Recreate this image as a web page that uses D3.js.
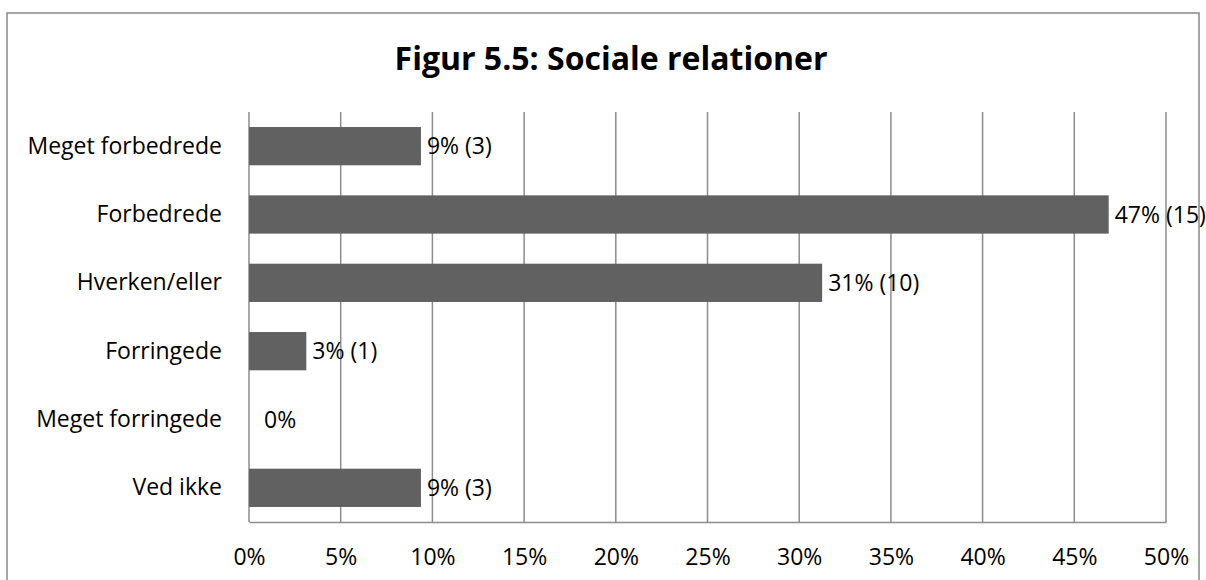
<!DOCTYPE html>
<html lang="da">
<head>
<meta charset="utf-8">
<title>Figur 5.5: Sociale relationer</title>
<style>
body { margin: 0; background: #fff; }
svg text { font-family: "Open Sans", sans-serif; fill: #000; }
.grid line { stroke: #8c8c8c; stroke-width: 1.5; }
</style>
</head>
<body>
<div id="chart"></div>
<script src="https://d3js.org/d3.v7.min.js"></script>
<script>
var categories = ['Meget forbedrede', 'Forbedrede', 'Hverken/eller', 'Forringede', 'Meget forringede', 'Ved ikke'];
var counts = [3, 15, 10, 1, 0, 3];
var shares = [9.375, 46.875, 31.25, 3.125, 0, 9.375];
var labels = ['9% (3)', '47% (15)', '31% (10)', '3% (1)', '0%', '9% (3)'];
var ticks = [0, 5, 10, 15, 20, 25, 30, 35, 40, 45, 50];

var W = 1206, H = 580;
var margin = { top: 112, right: 40, bottom: 58, left: 249 };
var width = 1166 - margin.left, height = 522 - margin.top;
var fs = '23px';

var svg = d3.select('#chart').append('svg')
  .attr('width', W).attr('height', H);

// outer frame
svg.append('rect')
  .attr('x', 7).attr('y', 13)
  .attr('width', 1192).attr('height', 580)
  .attr('fill', 'none').attr('stroke', '#888').attr('stroke-width', 1.5);

svg.append('text')
  .attr('x', 611).attr('y', 70)
  .attr('text-anchor', 'middle')
  .style('font-size', '32px').style('font-weight', 'bold')
  .text('Figur 5.5: Sociale relationer');

var x = d3.scaleLinear().domain([0, 50]).range([0, width]);
var y = d3.scaleBand().domain(categories).range([0, height]).paddingInner(0.44).paddingOuter(0.22);

var g = svg.append('g').attr('transform', 'translate(' + margin.left + ',' + margin.top + ')');

// vertical gridlines
g.append('g').attr('class', 'grid')
  .selectAll('line').data(ticks).enter().append('line')
  .attr('x1', function(d) { return x(d); }).attr('x2', function(d) { return x(d); })
  .attr('y1', 0).attr('y2', height);

// bottom axis
var xAxis = g.append('g')
  .attr('transform', 'translate(0,' + height + ')')
  .call(d3.axisBottom(x).tickValues(ticks).tickSize(0).tickPadding(27).tickFormat(function(d) { return d + '%'; }));
xAxis.select('.domain').attr('stroke', '#8c8c8c').attr('stroke-width', 1.5);
xAxis.selectAll('text').style('font-size', fs).style('font-family', '"Open Sans", sans-serif');

// left category labels
var yAxis = g.append('g')
  .call(d3.axisLeft(y).tickSize(0).tickPadding(27));
yAxis.select('.domain').remove();
yAxis.selectAll('text').style('font-size', fs).style('font-family', '"Open Sans", sans-serif');

g.selectAll('rect.bar')
  .data(categories).enter().append('rect')
  .attr('class', 'bar')
  .attr('x', 0)
  .attr('y', function(d) { return y(d); })
  .attr('width', function(d, i) { return x(shares[i]); })
  .attr('height', y.bandwidth())
  .attr('fill', '#616161');

g.selectAll('text.val')
  .data(categories).enter().append('text')
  .attr('class', 'val')
  .attr('x', function(d, i) { return x(shares[i]) + (shares[i] === 0 ? 15 : 6); })
  .attr('y', function(d) { return y(d) + y.bandwidth() / 2; })
  .attr('dy', '0.35em')
  .style('font-size', fs)
  .text(function(d, i) { return labels[i]; });
</script>
</body>
</html>
